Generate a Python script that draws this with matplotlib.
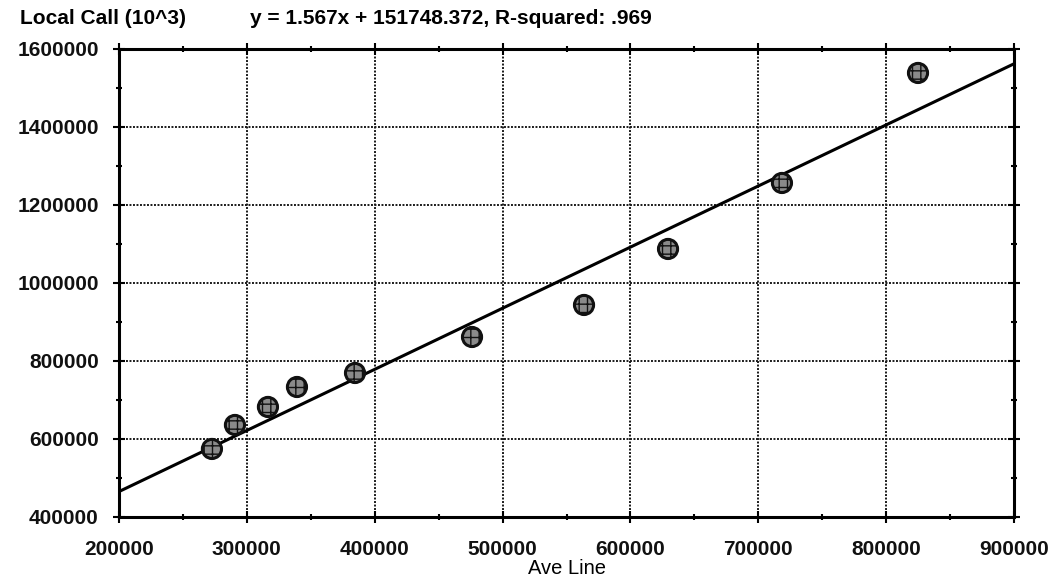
import matplotlib
matplotlib.use("Agg")
import matplotlib.pyplot as plt
import numpy as np

plt.rcParams['font.family'] = ['Liberation Sans', 'DejaVu Sans']

# Data
ave_line = [272700, 290700, 316500, 339200, 384600, 476100, 563700, 629400, 718500, 824900]
local_call = [574400, 635900, 682100, 733300, 769200, 861500, 943600, 1087200, 1256400, 1538500]

slope = 1.567
intercept = 151748.372
r_squared = ".969"

x_ticks = [200000, 300000, 400000, 500000, 600000, 700000, 800000, 900000]
y_ticks = [400000, 600000, 800000, 1000000, 1200000, 1400000, 1600000]

fig = plt.figure(figsize=(10.52, 5.81), dpi=100)
ax = fig.add_axes([0.1131, 0.1102, 0.8508, 0.8055])

ax.set_xlim(200000, 900000)
ax.set_ylim(400000, 1600000)

# grid
ax.set_xticks(x_ticks)
ax.set_yticks(y_ticks)
ax.set_xticks(np.arange(250000, 900000, 100000), minor=True)
ax.set_yticks(np.arange(500000, 1600000, 200000), minor=True)
ax.grid(True, which='major', color='#1a1a1a', linestyle=(0, (1, 0.8)), linewidth=1.4)
ax.set_axisbelow(True)

# regression line
fx = np.array([200000, 900000])
ax.plot(fx, slope * fx + intercept, color='black', linewidth=2.2, zorder=3)

# points
ax.scatter(ave_line, local_call, s=190, facecolor='#8a8a8a', edgecolor='#111111',
           linewidth=2.2, hatch='++', zorder=4)

for s in ax.spines.values():
    s.set_linewidth(2.2)
    s.set_color('black')

ax.tick_params(which='both', direction='inout', top=True, right=True, width=1.5, color='black')
ax.tick_params(which='major', length=9)
ax.tick_params(which='minor', length=5)
ax.tick_params(axis='x', which='major', labelsize=15, pad=12)
ax.tick_params(axis='y', which='major', labelsize=15, pad=10)
ax.tick_params(axis='x', which='both', labeltop=False)
ax.tick_params(axis='y', which='both', labelright=False)

ax.set_xticklabels([str(v) for v in x_ticks])
ax.set_yticklabels([str(v) for v in y_ticks])
for lab in ax.get_xticklabels() + ax.get_yticklabels():
    lab.set_color('#111111')
    lab.set_fontweight('bold')

ax.set_xlabel('Ave Line', fontsize=14.5, labelpad=0)

fig.text(20 / 1052, 1 - 18 / 581, 'Local Call (10^3)', fontsize=15, va='center', ha='left',
         fontweight='bold')
fig.text(250 / 1052, 1 - 18 / 581,
         f'y = {slope}x + {intercept}, R-squared: {r_squared}', fontsize=15,
         va='center', ha='left', fontweight='bold')

fig.savefig('out.png', dpi=100)
